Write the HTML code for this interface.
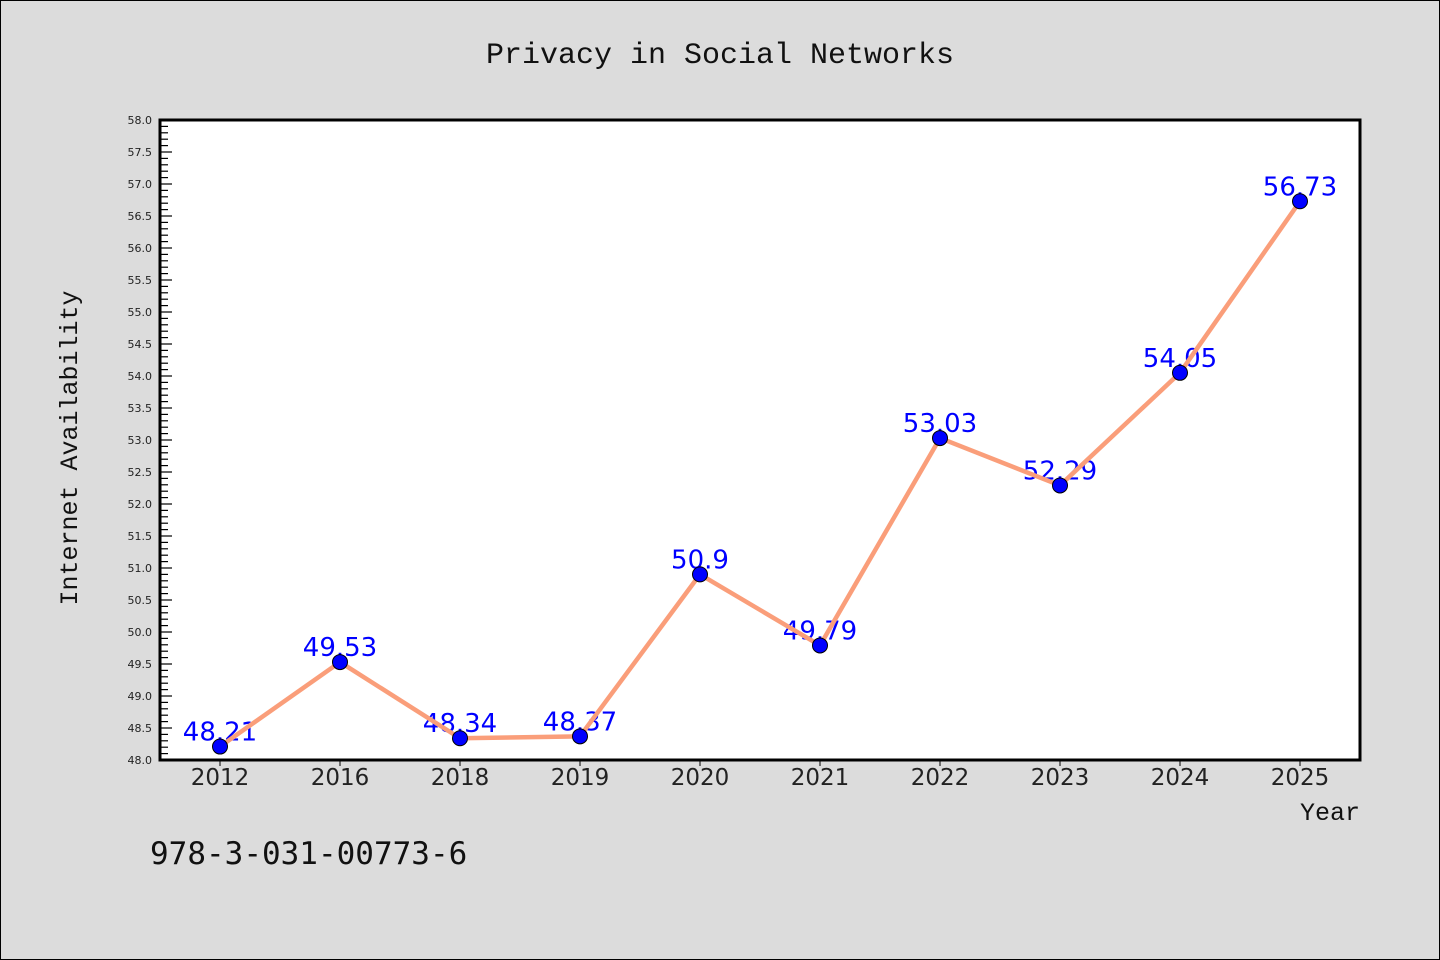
<!DOCTYPE html>
<html><head><meta charset="utf-8"><style>
html,body{margin:0;padding:0;background:#dcdcdc;}
svg{display:block;}
</style></head><body>
<svg width="1440" height="960" xmlns="http://www.w3.org/2000/svg">
<rect x="0.5" y="0.5" width="1439" height="959" fill="#dcdcdc" stroke="#000"/>
<text x="720" y="63" text-anchor="middle" font-family="'Liberation Mono', 'WenQuanYi Zen Hei', monospace" font-size="30" fill="#111">Privacy in Social Networks</text>
<rect x="160" y="120" width="1200" height="640" fill="#fff"/>
<g id="yaxis"></g>
<g id="xaxis"></g>
<g id="labels"></g>
<g id="series"></g>
<rect x="160" y="120" width="1200" height="640" fill="none" stroke="#000" stroke-width="3"/>
<text x="77" y="448" transform="rotate(-90 77 448)" text-anchor="middle" font-family="'Liberation Mono', monospace" font-size="25" fill="#111">Internet Availability</text>
<text x="1360" y="820" text-anchor="end" font-family="'Liberation Mono', monospace" font-size="25" fill="#111">Year</text>
<text x="150" y="864" font-family="'DejaVu Sans Mono', 'Liberation Mono', monospace" font-size="31" fill="#111">978-3-031-00773-6</text>
<script>
const categories=["2012","2016","2018","2019","2020","2021","2022","2023","2024","2025"];
const values=[48.21,49.53,48.34,48.37,50.9,49.79,53.03,52.29,54.05,56.73];
const valueLabels=["48.21","49.53","48.34","48.37","50.9","49.79","53.03","52.29","54.05","56.73"];
const yMin=48,yMax=58;
const NS="http://www.w3.org/2000/svg";
function xs(i){return 220+120*i;}
function ys(v){return 760-(v-yMin)/(yMax-yMin)*640;}
function mk(tag,attrs,parent){const e=document.createElementNS(NS,tag);for(const k in attrs)e.setAttribute(k,attrs[k]);parent.appendChild(e);return e;}
const ya=document.getElementById('yaxis');
for(let k=0;k<=100;k++){
 const v=yMin+k*0.1,y=ys(v),major=k%5===0;
 const t=mk('line',{x1:160,x2:major?172:168,y1:y,y2:y,stroke:'#000','stroke-width':1.2},ya);
 
 
 if(major){
  const l=mk('text',{x:152,y:y+4,'text-anchor':'end','font-family':'DejaVu Sans, sans-serif','font-size':11,fill:'#222'},ya);
  l.textContent=v.toFixed(1);
  
  
 }
}
const xa=document.getElementById('xaxis');
categories.forEach((c,i)=>{
 const t=mk('line',{x1:xs(i),x2:xs(i),y1:760,y2:766,stroke:'#000','stroke-width':1},xa);
 
 
 const l=mk('text',{x:xs(i),y:785,'text-anchor':'middle','font-family':'DejaVu Sans, sans-serif','font-size':23,fill:'#222'},xa);
 l.textContent=c;
 
 
});
const lb=document.getElementById('labels');
values.forEach((v,i)=>{
 const l=mk('text',{x:xs(i),y:ys(v)-6,'text-anchor':'middle','font-family':'DejaVu Sans, sans-serif','font-size':26,fill:'#0000ff'},lb);
 l.textContent=valueLabels[i];
 
 
});
const sr=document.getElementById('series');
const pl=mk('polyline',{points:values.map((v,i)=>xs(i)+','+ys(v)).join(' '),fill:'none',stroke:'#fa9e7a','stroke-width':4.5,'stroke-linejoin':'round'},sr);


values.forEach((v,i)=>{
 const c=mk('circle',{cx:xs(i),cy:ys(v),r:7.5,fill:'#0000ff',stroke:'#000','stroke-width':1},sr);
 
 
});
</script>
</svg>
</body></html>
